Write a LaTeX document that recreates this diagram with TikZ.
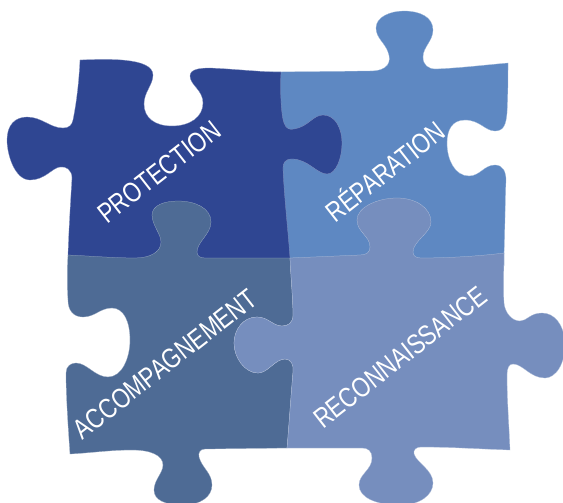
\documentclass[tikz,border=0pt]{standalone}
\usepackage{fontspec}
\setmainfont[FakeStretch=0.8]{Liberation Sans}
\definecolor{cprot}{HTML}{2F4692}
\definecolor{crep}{HTML}{5E88C2}
\definecolor{cacc}{HTML}{4E6B95}
\definecolor{crec}{HTML}{768EBE}
\tikzset{
  piece/.style={line width=0.25pt,draw=white!45!#1,fill=#1},
  lbl/.style={text=white,rotate=38,inner sep=0pt,font=\fontsize{28}{28}\selectfont}
}
\begin{document}
\begin{tikzpicture}[x=1pt,y=-1pt]
\useasboundingbox[fill=white] (0,0) rectangle (563,503);
\begin{scope}
\clip (0,0) rectangle (563,503);
% REPARATION
\path[piece=crep] (270,72) -- (370,71)
 .. controls (388,71) and (392,62) .. (388,52)
 .. controls (385,43) and (376,38) .. (376,28)
 .. controls (376,17) and (390,11) .. (404,11)
 .. controls (420,11) and (433,17) .. (433,30)
 .. controls (433,41) and (423,47) .. (423,57)
 .. controls (423,65) and (428,69) .. (436,69)
 .. controls (460,68) and (485,65) .. (508,63)
 .. controls (508,80) and (508,95) .. (507,113)
 .. controls (506,124) and (504,131) .. (495,131)
 .. controls (485,131) and (480,120) .. (465,120)
 .. controls (452,120) and (447,130) .. (447,143)
 .. controls (447,160) and (455,176) .. (469,176)
 .. controls (480,176) and (484,165) .. (495,165)
 .. controls (503,165) and (506,172) .. (506,180)
 .. controls (505,205) and (505,230) .. (504,254)
 -- (504,266) -- (270,266) -- cycle;
% PROTECTION
\path[piece=cprot] (80,60)
 .. controls (105,59) and (153,57) .. (153,75)
 .. controls (153,85) and (144,92) .. (144,104)
 .. controls (144,118) and (155,126) .. (172,126)
 .. controls (190,126) and (203,117) .. (203,103)
 .. controls (203,90) and (190,85) .. (190,76)
 .. controls (190,69) and (200,68) .. (210,68)
 .. controls (235,69) and (260,72) .. (281,72)
 .. controls (280,90) and (281,115) .. (284,123)
 .. controls (286,129) and (290,130) .. (294,129)
 .. controls (308,127) and (313,115) .. (323,115)
 .. controls (335,115) and (342,128) .. (342,143)
 .. controls (342,158) and (336,174) .. (327,174)
 .. controls (317,174) and (308,159) .. (292,159)
 .. controls (285,159) and (283,163) .. (283,168)
 .. controls (284,195) and (288,230) .. (290,258)
 -- (290,266) -- (70,266) -- (68,255)
 .. controls (69,225) and (71,195) .. (72,178)
 .. controls (72,170) and (66,166) .. (60,167)
 .. controls (52,168) and (45,180) .. (30,180)
 .. controls (15,180) and (7,155) .. (7,140)
 .. controls (7,125) and (15,117) .. (27,117)
 .. controls (42,117) and (50,128) .. (63,128)
 .. controls (69,128) and (72,125) .. (73,120)
 .. controls (77,100) and (79,80) .. (80,60) -- cycle;
% ACCOMPAGNEMENT
\path[piece=cacc] (68,255)
 .. controls (90,256) and (115,258) .. (135,258)
 .. controls (150,258) and (161,252) .. (161,242)
 .. controls (161,234) and (152,225) .. (152,215)
 .. controls (152,205) and (165,201) .. (178,201)
 .. controls (195,201) and (211,208) .. (211,222)
 .. controls (211,234) and (197,242) .. (197,252)
 .. controls (197,256) and (200,258) .. (205,258)
 -- (290,258)
 .. controls (291,280) and (293,300) .. (293,315)
 .. controls (293,323) and (288,326) .. (282,326)
 .. controls (273,326) and (268,317) .. (257,317)
 .. controls (243,317) and (234,330) .. (234,343)
 .. controls (234,358) and (245,373) .. (258,373)
 .. controls (268,373) and (275,359) .. (285,359)
 .. controls (291,359) and (294,365) .. (293,372)
 .. controls (291,395) and (289,425) .. (287,448)
 -- (205,449)
 .. controls (200,449) and (198,453) .. (199,457)
 .. controls (202,468) and (212,473) .. (212,485)
 .. controls (212,497) and (200,505) .. (183,505)
 .. controls (165,505) and (154,500) .. (154,490)
 .. controls (154,480) and (163,473) .. (163,465)
 .. controls (163,455) and (150,450) .. (132,450)
 .. controls (110,450) and (90,453) .. (70,454)
 .. controls (68,425) and (66,395) .. (66,373)
 .. controls (66,366) and (71,363) .. (76,363)
 .. controls (87,363) and (95,377) .. (108,377)
 .. controls (122,377) and (130,358) .. (130,340)
 .. controls (130,322) and (124,308) .. (112,308)
 .. controls (100,308) and (95,317) .. (83,317)
 .. controls (73,317) and (68,310) .. (68,300)
 .. controls (67,285) and (67,270) .. (68,255) -- cycle;
% RECONNAISSANCE
\path[piece=crec] (290,258)
 -- (360,255)
 .. controls (367,255) and (370,252) .. (370,247)
 .. controls (370,236) and (357,232) .. (357,220)
 .. controls (357,207) and (378,198) .. (397,198)
 .. controls (416,198) and (431,208) .. (431,222)
 .. controls (431,233) and (413,241) .. (413,252)
 .. controls (413,256) and (416,258) .. (421,258)
 .. controls (450,258) and (480,256) .. (504,253)
 .. controls (504,270) and (503,285) .. (504,303)
 .. controls (505,313) and (512,321) .. (520,321)
 .. controls (527,321) and (530,313) .. (542,313)
 .. controls (555,313) and (563,325) .. (565,340)
 .. controls (566,365) and (555,378) .. (545,378)
 .. controls (530,378) and (523,364) .. (513,364)
 .. controls (509,364) and (507,368) .. (507,375)
 .. controls (507,400) and (509,425) .. (510,450)
 .. controls (480,449) and (450,447) .. (421,447)
 .. controls (416,447) and (413,450) .. (414,454)
 .. controls (417,463) and (433,470) .. (433,483)
 .. controls (433,495) and (420,505) .. (400,505)
 .. controls (375,505) and (359,497) .. (359,485)
 .. controls (359,474) and (372,470) .. (372,458)
 .. controls (372,451) and (368,448) .. (362,448)
 -- (287,448)
 .. controls (289,425) and (291,395) .. (293,372)
 .. controls (294,365) and (291,359) .. (285,359)
 .. controls (275,359) and (268,373) .. (258,373)
 .. controls (245,373) and (234,358) .. (234,343)
 .. controls (234,330) and (243,317) .. (257,317)
 .. controls (268,317) and (273,326) .. (282,326)
 .. controls (288,326) and (293,323) .. (293,315)
 .. controls (293,300) and (291,280) .. (290,258) -- cycle;
\end{scope}
\node[lbl] (prot) at (159,172) {PROTECTION};
\node[lbl] (rep) at (384,170) {RÉPARATION};
\node[lbl] (acc) at (165,364) {ACCOMPAGNEMENT};
\node[lbl] (rec) at (400,357) {RECONNAISSANCE};
\end{tikzpicture}
\end{document}
